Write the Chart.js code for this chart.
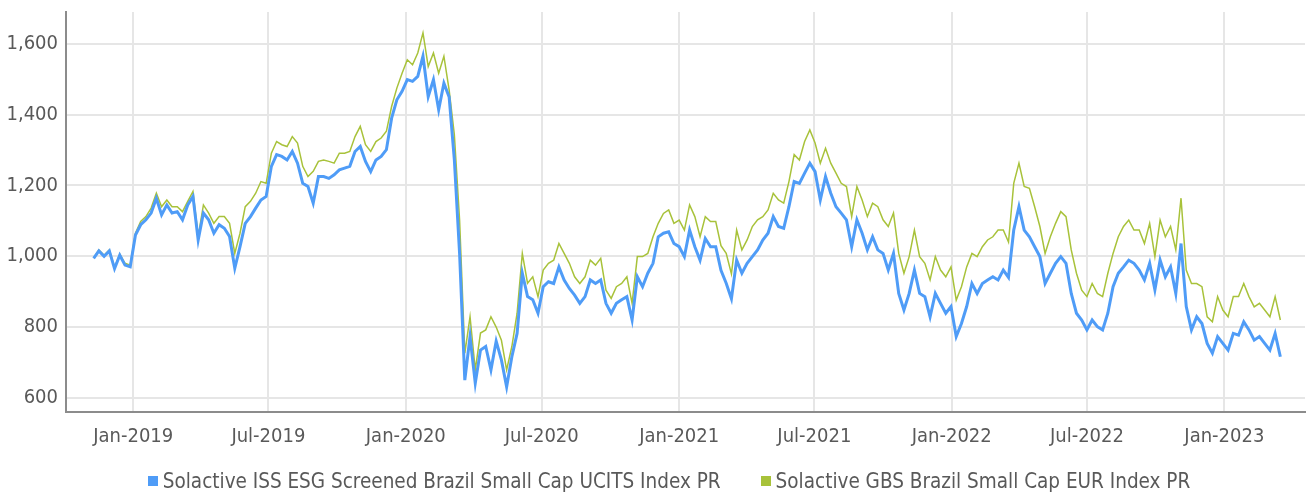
<!DOCTYPE html>
<html>
<head>
<meta charset="utf-8">
<title>Solactive Brazil Small Cap</title>
<script src="https://cdn.jsdelivr.net/npm/chart.js@4.4.1/dist/chart.umd.min.js"></script>
<style>
  html, body { margin: 0; padding: 0; background: #fff; }
  .wrap { position: relative; width: 1306px; height: 495px; }
  #chart { display: block; }
  .legend {
    position: absolute; left: 0; right: 0; top: 468px;
    display: flex; justify-content: center; gap: 40px;
    font: 20.5px 'DejaVu Sans Condensed', sans-serif; color: #595959;
    line-height: 26px; padding-left: 32px;
  }
  .legend span { display: inline-flex; align-items: center; }
  .legend i { display: inline-block; width: 10px; height: 10px; margin-right: 5px; }
</style>
</head>
<body>
<div class="wrap">
  <canvas id="chart" width="1306" height="495"></canvas>
  <div class="legend" id="legend"></div>
</div>
<script>
"use strict";

// weekly closes (Fridays)
const dates = [
  "2018-11-09", "2018-11-16", "2018-11-23", "2018-11-30", "2018-12-07", "2018-12-14", "2018-12-21", "2018-12-28",
  "2019-01-04", "2019-01-11", "2019-01-18", "2019-01-25", "2019-02-01", "2019-02-08", "2019-02-15", "2019-02-22",
  "2019-03-01", "2019-03-08", "2019-03-15", "2019-03-22", "2019-03-29", "2019-04-05", "2019-04-12", "2019-04-19",
  "2019-04-26", "2019-05-03", "2019-05-10", "2019-05-17", "2019-05-24", "2019-05-31", "2019-06-07", "2019-06-14",
  "2019-06-21", "2019-06-28", "2019-07-05", "2019-07-12", "2019-07-19", "2019-07-26", "2019-08-02", "2019-08-09",
  "2019-08-16", "2019-08-23", "2019-08-30", "2019-09-06", "2019-09-13", "2019-09-20", "2019-09-27", "2019-10-04",
  "2019-10-11", "2019-10-18", "2019-10-25", "2019-11-01", "2019-11-08", "2019-11-15", "2019-11-22", "2019-11-29",
  "2019-12-06", "2019-12-13", "2019-12-20", "2019-12-27",
  "2020-01-03", "2020-01-10", "2020-01-17", "2020-01-24", "2020-01-31", "2020-02-07", "2020-02-14", "2020-02-21",
  "2020-02-28", "2020-03-06", "2020-03-13", "2020-03-20", "2020-03-27", "2020-04-03", "2020-04-10", "2020-04-17",
  "2020-04-24", "2020-05-01", "2020-05-08", "2020-05-15", "2020-05-22", "2020-05-29", "2020-06-05", "2020-06-12",
  "2020-06-19", "2020-06-26", "2020-07-03", "2020-07-10", "2020-07-17", "2020-07-24", "2020-07-31", "2020-08-07",
  "2020-08-14", "2020-08-21", "2020-08-28", "2020-09-04", "2020-09-11", "2020-09-18", "2020-09-25", "2020-10-02",
  "2020-10-09", "2020-10-16", "2020-10-23", "2020-10-30", "2020-11-06", "2020-11-13", "2020-11-20", "2020-11-27",
  "2020-12-04", "2020-12-11", "2020-12-18", "2020-12-25",
  "2021-01-01", "2021-01-08", "2021-01-15", "2021-01-22", "2021-01-29", "2021-02-05", "2021-02-12", "2021-02-19",
  "2021-02-26", "2021-03-05", "2021-03-12", "2021-03-19", "2021-03-26", "2021-04-02", "2021-04-09", "2021-04-16",
  "2021-04-23", "2021-04-30", "2021-05-07", "2021-05-14", "2021-05-21", "2021-05-28", "2021-06-04", "2021-06-11",
  "2021-06-18", "2021-06-25", "2021-07-02", "2021-07-09", "2021-07-16", "2021-07-23", "2021-07-30", "2021-08-06",
  "2021-08-13", "2021-08-20", "2021-08-27", "2021-09-03", "2021-09-10", "2021-09-17", "2021-09-24", "2021-10-01",
  "2021-10-08", "2021-10-15", "2021-10-22", "2021-10-29", "2021-11-05", "2021-11-12", "2021-11-19", "2021-11-26",
  "2021-12-03", "2021-12-10", "2021-12-17", "2021-12-24", "2021-12-31",
  "2022-01-07", "2022-01-14", "2022-01-21", "2022-01-28", "2022-02-04", "2022-02-11", "2022-02-18", "2022-02-25",
  "2022-03-04", "2022-03-11", "2022-03-18", "2022-03-25", "2022-04-01", "2022-04-08", "2022-04-15", "2022-04-22",
  "2022-04-29", "2022-05-06", "2022-05-13", "2022-05-20", "2022-05-27", "2022-06-03", "2022-06-10", "2022-06-17",
  "2022-06-24", "2022-07-01", "2022-07-08", "2022-07-15", "2022-07-22", "2022-07-29", "2022-08-05", "2022-08-12",
  "2022-08-19", "2022-08-26", "2022-09-02", "2022-09-09", "2022-09-16", "2022-09-23", "2022-09-30", "2022-10-07",
  "2022-10-14", "2022-10-21", "2022-10-28", "2022-11-04", "2022-11-11", "2022-11-18", "2022-11-25", "2022-12-02",
  "2022-12-09", "2022-12-16", "2022-12-23", "2022-12-30",
  "2023-01-06", "2023-01-13", "2023-01-20", "2023-01-27", "2023-02-03", "2023-02-10", "2023-02-17", "2023-02-24",
  "2023-03-03", "2023-03-10", "2023-03-17"
];

const esgValues = [
  994, 1015, 1000, 1015, 965, 1003, 975, 970,
  1060, 1089, 1103, 1122, 1164, 1117, 1145, 1122, 1126, 1103, 1145, 1169, 1046, 1122, 1103, 1065,
  1089, 1079, 1056, 966, 1027, 1093, 1112, 1136, 1159, 1169, 1254, 1287, 1282, 1272, 1296, 1263,
  1206, 1197, 1150, 1225, 1225, 1220, 1230, 1244, 1249, 1254, 1296, 1310, 1268, 1239, 1272, 1282,
  1301, 1390, 1442, 1466,
  1499, 1494, 1508, 1565, 1451, 1499, 1414, 1489, 1450, 1272, 1008, 650, 773, 641, 735, 745,
  679, 760, 707, 631, 716, 782, 952, 886, 877, 839, 914, 928, 923, 970, 933, 909,
  890, 867, 886, 933, 923, 933, 867, 839, 867, 877, 886, 820, 942, 914, 952, 980,
  1055, 1065, 1069, 1036,
  1027, 999, 1074, 1027, 989, 1050, 1027, 1027, 960, 924, 880, 989, 952, 980, 999, 1018,
  1046, 1065, 1112, 1084, 1079, 1140, 1211, 1206, 1235, 1263, 1239, 1159, 1225, 1178, 1140, 1122,
  1103, 1027, 1103, 1065, 1018, 1055, 1018, 1008, 961, 1008, 895, 848, 895, 961, 895, 886,
  829, 895, 867, 839, 858,
  773, 810, 858, 923, 895, 923, 933, 942, 933, 961, 940, 1074, 1140, 1074, 1055, 1027,
  999, 923, 952, 980, 999, 980, 895, 839, 820, 792, 820, 801, 792, 839, 914, 952,
  970, 989, 980, 961, 933, 980, 905, 989, 942, 970, 895, 1036, 858, 792, 829, 810,
  754, 726, 773, 754,
  735, 782, 777, 815, 792, 763, 773, 754, 735, 782, 716
];

const gbsValues = [
  995, 1018, 1003, 1018, 968, 1006, 980, 975,
  1065, 1098, 1112, 1136, 1178, 1140, 1159, 1140, 1140, 1126, 1155, 1183, 1056, 1145, 1122, 1093,
  1112, 1112, 1093, 1008, 1065, 1140, 1155, 1178, 1211, 1206, 1291, 1324, 1315, 1310, 1338, 1320,
  1254, 1225, 1240, 1268, 1272, 1268, 1263, 1291, 1291, 1296, 1338, 1367, 1315, 1296, 1324, 1334,
  1353, 1423, 1475, 1517,
  1555, 1541, 1574, 1631, 1536, 1574, 1517, 1565, 1470, 1343, 1103, 726, 829, 679, 783, 792,
  829, 800, 763, 679, 745, 839, 1008, 924, 942, 886, 961, 980, 989, 1036, 1008, 980,
  942, 923, 942, 989, 975, 994, 904, 881, 914, 923, 942, 867, 999, 999, 1008, 1055,
  1093, 1121, 1131, 1093,
  1102, 1074, 1145, 1112, 1055, 1112, 1098, 1098, 1030, 1008, 950, 1074, 1018, 1046, 1084, 1103,
  1112, 1131, 1178, 1159, 1150, 1211, 1287, 1272, 1324, 1357, 1320, 1263, 1305, 1263, 1235, 1206,
  1197, 1112, 1197, 1159, 1112, 1150, 1140, 1103, 1084, 1122, 1008, 952, 999, 1074, 999, 980,
  933, 999, 961, 942, 970,
  876, 914, 970, 1008, 999, 1027, 1046, 1055, 1074, 1074, 1040, 1206, 1263, 1197, 1192, 1140,
  1084, 1008, 1055, 1093, 1126, 1112, 1018, 952, 904, 886, 923, 895, 886, 952, 1008, 1055,
  1084, 1102, 1074, 1074, 1036, 1093, 999, 1102, 1055, 1084, 1018, 1164, 961, 923, 923, 914,
  829, 815, 886, 848,
  829, 886, 886, 923, 886, 857, 867, 848, 829, 886, 820
];

const seriesNames = [
  "Solactive ISS ESG Screened Brazil Small Cap UCITS Index PR",
  "Solactive GBS Brazil Small Cap EUR Index PR"
];
const seriesColors = ["#4f9cf7", "#a8c23a"];

const xTickDates = [
  "2019-01-01", "2019-07-01", "2020-01-01", "2020-07-01", "2021-01-01",
  "2021-07-01", "2022-01-01", "2022-07-01", "2023-01-01"
];
const yTickValues = [600, 800, 1000, 1200, 1400, 1600];

const xRange = ["2018-10-03", "2023-04-19"];
const yRange = [560, 1690];

const MONTHS = ["Jan", "Feb", "Mar", "Apr", "May", "Jun", "Jul", "Aug", "Sep", "Oct", "Nov", "Dec"];
const TEXT_COLOR = "#595959";
const GRID_COLOR = "#e6e6e6";
const AXIS_COLOR = "#8c8c8c";
const FONT = "'DejaVu Sans Condensed', sans-serif";

// days since epoch, so the x axis can stay a plain linear scale
function toDay(iso) {
  const p = iso.split("-").map(Number);
  return Date.UTC(p[0], p[1] - 1, p[2]) / 86400000;
}

function dayLabel(day) {
  const d = new Date(day * 86400000);
  return MONTHS[d.getUTCMonth()] + "-" + d.getUTCFullYear();
}

function toPoints(values) {
  return values.map((v, i) => ({ x: toDay(dates[i]), y: v }));
}

// legend sits under the canvas as plain html
const legendEl = document.getElementById("legend");
seriesNames.forEach((name, i) => {
  const item = document.createElement("span");
  const box = document.createElement("i");
  box.style.background = seriesColors[i];
  item.appendChild(box);
  item.appendChild(document.createTextNode(name));
  legendEl.appendChild(item);
});

Chart.defaults.font.family = FONT;
Chart.defaults.color = TEXT_COLOR;

new Chart(document.getElementById("chart").getContext("2d"), {
  type: "line",
  data: {
    datasets: [
      {
        label: seriesNames[0],
        data: toPoints(esgValues),
        borderColor: seriesColors[0],
        borderWidth: 3,
        pointRadius: 0,
        tension: 0
      },
      {
        label: seriesNames[1],
        data: toPoints(gbsValues),
        borderColor: seriesColors[1],
        borderWidth: 1.5,
        pointRadius: 0,
        tension: 0
      }
    ]
  },
  options: {
    responsive: false,
    devicePixelRatio: 1,
    animation: false,
    layout: { padding: { top: 12, right: 1, left: 0, bottom: 37 } },
    plugins: {
      tooltip: { enabled: false },
      legend: { display: false }
    },
    scales: {
      x: {
        type: "linear",
        min: toDay(xRange[0]),
        max: toDay(xRange[1]),
        afterBuildTicks: (scale) => {
          scale.ticks = xTickDates.map((d) => ({ value: toDay(d) }));
        },
        afterFit: (scale) => {
          scale.height = 46;
        },
        ticks: {
          autoSkip: false,
          maxRotation: 0,
          padding: 13,
          color: TEXT_COLOR,
          font: { size: 20, family: FONT },
          callback: (value) => dayLabel(value)
        },
        grid: { color: GRID_COLOR, lineWidth: 2, drawTicks: false },
        border: { display: true, color: AXIS_COLOR, width: 2 }
      },
      y: {
        min: yRange[0],
        max: yRange[1],
        afterBuildTicks: (scale) => {
          scale.ticks = yTickValues.map((v) => ({ value: v }));
        },
        afterFit: (scale) => {
          // top/bottom ticks sit well inside the range, no label overhang to reserve
          scale.width = 66;
          scale.paddingTop = 0;
          scale.paddingBottom = 0;
        },
        ticks: {
          padding: 8,
          color: TEXT_COLOR,
          font: { size: 20, family: FONT },
          callback: (value) => value.toLocaleString("en-US")
        },
        grid: { color: GRID_COLOR, lineWidth: 2, drawTicks: false },
        border: { display: true, color: AXIS_COLOR, width: 2 }
      }
    }
  }
});
</script>
</body>
</html>
